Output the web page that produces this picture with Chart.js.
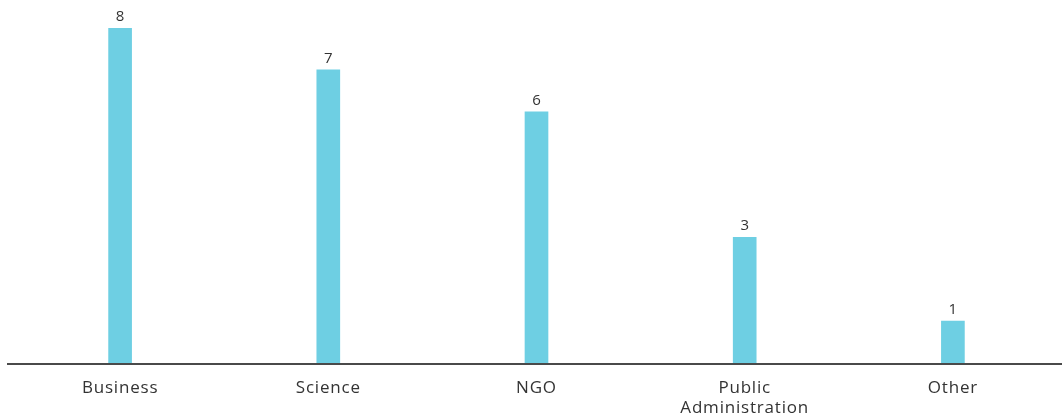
<!DOCTYPE html>
<html>
<head>
<meta charset="utf-8">
<script src="https://cdn.jsdelivr.net/npm/chart.js@4"></script>
<style>
  html, body { margin: 0; padding: 0; background: #fff; }
  #wrap { width: 1062px; height: 417px; position: relative; }
</style>
</head>
<body>
<div id="wrap"><canvas id="myChart"></canvas></div>
<script>
// Sector counts
var sectors = ["Business", "Science", "NGO", ["Public", "Administration"], "Other"];
var counts = [8, 7, 6, 3, 1];

var barColor = '#6ecfe3';
var textColor = '#333333';
var fontFamily = "'Open Sans', sans-serif";

// Wider tracking for every piece of text on the canvas
var tracking = {
  id: 'tracking',
  beforeInit(chart) { chart.ctx.letterSpacing = '0.8px'; },
  beforeDraw(chart) { chart.ctx.letterSpacing = '0.8px'; }
};

// Writes the count above each bar
var valueLabels = {
  id: 'valueLabels',
  afterDatasetsDraw(chart) {
    var ctx = chart.ctx;
    var meta = chart.getDatasetMeta(0);
    ctx.save();
    ctx.fillStyle = textColor;
    ctx.font = '15px ' + fontFamily;
    ctx.letterSpacing = '0px';
    ctx.textAlign = 'center';
    ctx.textBaseline = 'bottom';
    meta.data.forEach(function(bar, i) {
      ctx.fillText(counts[i], bar.x, bar.y - 4);
    });
    ctx.restore();
  }
};

// Baseline runs wider than the plot area
var baseLine = {
  id: 'baseLine',
  afterDatasetsDraw(chart) {
    var ctx = chart.ctx;
    var y = chart.scales.y.getPixelForValue(0);
    ctx.save();
    ctx.strokeStyle = '#4a4a4a';
    ctx.lineWidth = 2;
    ctx.beginPath();
    ctx.moveTo(7, y + 1);
    ctx.lineTo(chart.width, y + 1);
    ctx.stroke();
    ctx.restore();
  }
};

var ctx = document.getElementById("myChart");
var myBarChart = new Chart(ctx, {
  type: 'bar',
  data: {
    labels: sectors,
    datasets: [{
      data: counts,
      backgroundColor: barColor,
      borderWidth: 0,
      barThickness: 23
    }]
  },
  options: {
    responsive: true,
    maintainAspectRatio: false,
    animation: false,
    layout: {
      padding: { left: 16, right: 5, top: 28, bottom: 0 }
    },
    plugins: {
      legend: { display: false },
      tooltip: { enabled: false }
    },
    scales: {
      x: {
        grid: { display: false, drawTicks: false },
        border: { display: false },
        ticks: {
          color: textColor,
          padding: 15,
          font: { family: fontFamily, size: 17, lineHeight: 1.18 }
        },
        afterFit: function(scale) { scale.height = 54; }
      },
      y: {
        display: false,
        min: 0,
        max: 8
      }
    }
  },
  plugins: [tracking, valueLabels, baseLine]
});
</script>
</body>
</html>
